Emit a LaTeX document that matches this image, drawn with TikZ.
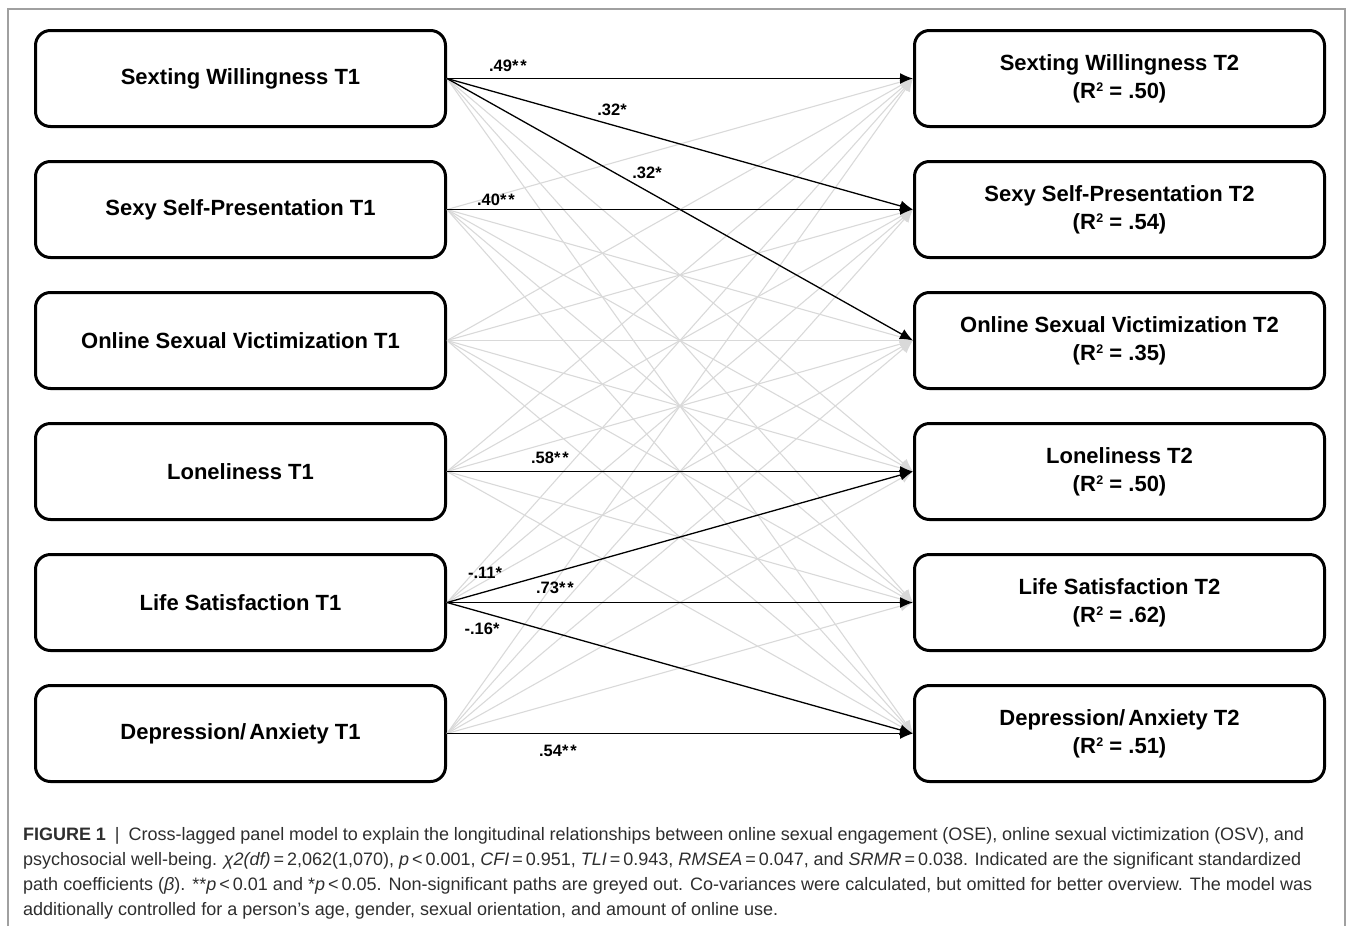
\documentclass[tikz,border=0pt]{standalone}
\usepackage{fontspec}
\setmainfont{Liberation Sans}
\usetikzlibrary{arrows.meta}
\definecolor{pathgray}{HTML}{D9D9D9}
\definecolor{framegray}{HTML}{A0A0A0}
\definecolor{captext}{HTML}{2E2E2E}
\newcommand{\rsq}{R\kern0.5pt\raisebox{7pt}{\fontsize{12.5}{12.5}\selectfont 2}}
\begin{document}
\begin{tikzpicture}[x=1pt,y=-1pt,
  varbox/.style={draw=black, line width=3pt, rounded corners=15pt, minimum width=410pt, minimum height=96pt, inner sep=0pt, align=center, font=\bfseries\fontsize{22}{28}\selectfont},
  sigpath/.style={line width=1.3pt, draw=black, -{Latex[length=13pt,width=11pt]}},
  nspath/.style={line width=1.1pt, draw=pathgray, -{Latex[length=13pt,width=11pt]}},
  coef/.style={font=\bfseries\fontsize{16.5}{18}\selectfont, inner sep=0pt},
  capline/.style={anchor=base west, inner sep=0pt, font=\fontsize{18}{22}\selectfont, text=captext}
]
\useasboundingbox (0,0) rectangle (1354,926);
\draw[framegray, line width=1.3pt] (8,926) -- (8,9) -- (1345,9) -- (1345,926);

% T1 boxes
\node[varbox] (L1) at (240.5,78.5) {Sexting Willingness T1};
\node[varbox] (L2) at (240.5,209.5) {Sexy Self-Presentation T1};
\node[varbox] (L3) at (240.5,340.5) {Online Sexual Victimization T1};
\node[varbox] (L4) at (240.5,471.5) {Loneliness T1};
\node[varbox] (L5) at (240.5,602.5) {Life Satisfaction T1};
\node[varbox] (L6) at (240.5,733.5) {Depression/\kern3pt Anxiety T1};

% T2 boxes
\node[varbox] (R1) at (1119.5,78.5) {Sexting Willingness T2\\(\rsq{} = .50)};
\node[varbox] (R2) at (1119.5,209.5) {Sexy Self-Presentation T2\\(\rsq{} = .54)};
\node[varbox] (R3) at (1119.5,340.5) {Online Sexual Victimization T2\\(\rsq{} = .35)};
\node[varbox] (R4) at (1119.5,471.5) {Loneliness T2\\(\rsq{} = .50)};
\node[varbox] (R5) at (1119.5,602.5) {Life Satisfaction T2\\(\rsq{} = .62)};
\node[varbox] (R6) at (1119.5,733.5) {Depression/\kern3pt Anxiety T2\\(\rsq{} = .51)};

% non-significant paths (greyed out)
\foreach \j in {4,5,6} \draw[nspath] (L1.east) -- (R\j.west);
\foreach \j in {1,3,4,5,6} \draw[nspath] (L2.east) -- (R\j.west);
\foreach \j in {1,2,3,4,5,6} \draw[nspath] (L3.east) -- (R\j.west);
\foreach \j in {1,2,3,5,6} \draw[nspath] (L4.east) -- (R\j.west);
\foreach \j in {1,2,3} \draw[nspath] (L5.east) -- (R\j.west);
\foreach \j in {1,2,3,4,5} \draw[nspath] (L6.east) -- (R\j.west);

% significant paths
\draw[sigpath] (L1.east) -- (R1.west);
\draw[sigpath] (L1.east) -- (R2.west);
\draw[sigpath] (L1.east) -- (R3.west);
\draw[sigpath] (L2.east) -- (R2.west);
\draw[sigpath] (L4.east) -- (R4.west);
\draw[sigpath] (L5.east) -- (R4.west);
\draw[sigpath] (L5.east) -- (R5.west);
\draw[sigpath] (L5.east) -- (R6.west);
\draw[sigpath] (L6.east) -- (R6.west);

% coefficients
\node[coef] (c1) at (508,66) {.49*\kern2pt*};
\node[coef] (c2) at (612,110) {.32*};
\node[coef] (c3) at (647,173) {.32*};
\node[coef] (c4) at (496,200) {.40*\kern2pt*};
\node[coef] (c5) at (550,458) {.58*\kern2pt*};
\node[coef] (c6) at (485,573) {-.11*};
\node[coef] (c7) at (555,588) {.73*\kern2pt*};
\node[coef] (c8) at (482,629) {-.16*};
\node[coef] (c9) at (558,751) {.54*\kern2pt*};

% caption
\node[capline] (cap1) at (23,840) {\makebox[1281pt][s]{\textbf{FIGURE 1}\enspace|\enspace Cross-lagged panel model to explain the longitudinal relationships between online sexual engagement (OSE), online sexual victimization (OSV), and}};
\node[capline] (cap2) at (23,865) {\makebox[1278pt][s]{psychosocial well-being. \textit{χ2(df)}\,=\,2,062(1,070), \textit{p}\,<\,0.001, \textit{CFI}\,=\,0.951, \textit{TLI}\,=\,0.943, \textit{RMSEA}\,=\,0.047, and \textit{SRMR}\,=\,0.038. Indicated are the significant standardized}};
\node[capline] (cap3) at (23,890) {\makebox[1289pt][s]{path coefficients (\textit{β}). **\textit{p}\,<\,0.01 and *\textit{p}\,<\,0.05. Non-significant paths are greyed out. Co-variances were calculated, but omitted for better overview. The model was}};
\node[capline] (cap4) at (23,915) {additionally controlled for a person’s age, gender, sexual orientation, and amount of online use.};
\end{tikzpicture}
\end{document}
